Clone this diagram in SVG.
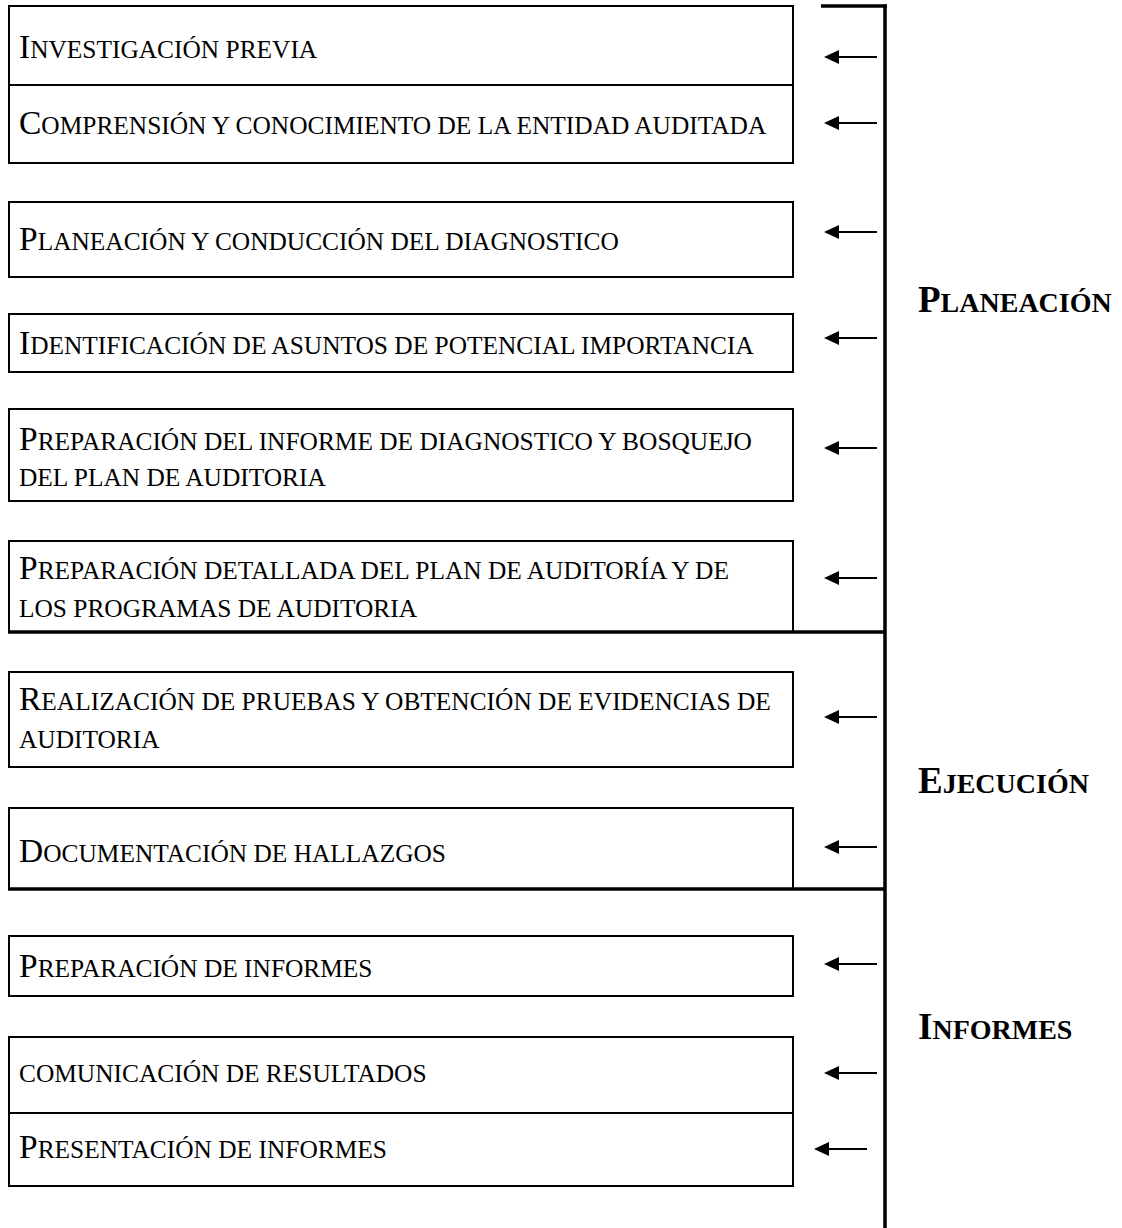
<svg xmlns="http://www.w3.org/2000/svg" width="1122" height="1228" viewBox="0 0 1122 1228">
<style>
.box{fill:none;stroke:#000;stroke-width:2}
.sep{stroke:#000;stroke-width:3.5;fill:none}
.t{font-family:"Liberation Serif","Times New Roman",serif;fill:#000}
.c{font-size:33.5px}
.s{font-size:25.4px}
.pc{font-size:37px;font-weight:bold}
.ps{font-size:28px;font-weight:bold}
.arr{stroke:#000;stroke-width:2;fill:none}
</style>
<defs>
<marker id="ah" markerWidth="15" markerHeight="15" refX="1" refY="7.5" orient="auto" markerUnits="userSpaceOnUse" viewBox="0 0 15 15">
<path d="M0,0.5 L15,7.5 L0,14.5 Z" fill="#000"/>
</marker>
</defs>
<rect width="1122" height="1228" fill="#fff"/>
<g id="frame">
<line class="sep" x1="821" y1="6" x2="887" y2="6"/>
<line class="sep" x1="885" y1="4.5" x2="885" y2="1228"/>
<line class="sep" x1="8" y1="632" x2="885" y2="632"/>
<line class="sep" x1="8" y1="889" x2="885" y2="889"/>
</g>
<g id="n1"><rect class="box" x="9" y="6" width="784" height="79"/>
<text class="t" x="19" y="58"><tspan class="c">I</tspan><tspan class="s">NVESTIGACIÓN PREVIA</tspan></text></g>
<g id="n2"><rect class="box" x="9" y="85" width="784" height="78"/>
<text class="t" x="19" y="134"><tspan class="c">C</tspan><tspan class="s">OMPRENSIÓN Y CONOCIMIENTO DE LA ENTIDAD AUDITADA</tspan></text></g>
<g id="n3"><rect class="box" x="9" y="202" width="784" height="75"/>
<text class="t" x="19" y="250"><tspan class="c">P</tspan><tspan class="s">LANEACIÓN Y CONDUCCIÓN DEL DIAGNOSTICO</tspan></text></g>
<g id="n4"><rect class="box" x="9" y="314" width="784" height="58"/>
<text class="t" x="19" y="354"><tspan class="c">I</tspan><tspan class="s">DENTIFICACIÓN DE ASUNTOS DE POTENCIAL IMPORTANCIA</tspan></text></g>
<g id="n5"><rect class="box" x="9" y="409" width="784" height="92"/>
<text class="t" x="19" y="450"><tspan class="c">P</tspan><tspan class="s">REPARACIÓN DEL INFORME DE DIAGNOSTICO Y BOSQUEJO</tspan></text>
<text class="t s" x="19" y="486">DEL PLAN DE AUDITORIA</text></g>
<g id="n6"><rect class="box" x="9" y="541" width="784" height="91"/>
<text class="t" x="19" y="579"><tspan class="c">P</tspan><tspan class="s">REPARACIÓN DETALLADA DEL PLAN DE AUDITORÍA Y DE</tspan></text>
<text class="t s" x="19" y="617">LOS PROGRAMAS DE AUDITORIA</text></g>
<g id="n7"><rect class="box" x="9" y="672" width="784" height="95"/>
<text class="t" x="19" y="710"><tspan class="c">R</tspan><tspan class="s">EALIZACIÓN DE PRUEBAS Y OBTENCIÓN DE EVIDENCIAS DE</tspan></text>
<text class="t s" x="19" y="748">AUDITORIA</text></g>
<g id="n8"><rect class="box" x="9" y="808" width="784" height="81"/>
<text class="t" x="19" y="862"><tspan class="c">D</tspan><tspan class="s">OCUMENTACIÓN DE HALLAZGOS</tspan></text></g>
<g id="n9"><rect class="box" x="9" y="936" width="784" height="60"/>
<text class="t" x="19" y="977"><tspan class="c">P</tspan><tspan class="s">REPARACIÓN DE INFORMES</tspan></text></g>
<g id="n10"><rect class="box" x="9" y="1037" width="784" height="76"/>
<text class="t s" x="19" y="1082">COMUNICACIÓN DE RESULTADOS</text></g>
<g id="n11"><rect class="box" x="9" y="1113" width="784" height="73"/>
<text class="t" x="19" y="1158"><tspan class="c">P</tspan><tspan class="s">RESENTACIÓN DE INFORMES</tspan></text></g>
<g id="phase-planeacion"><text class="t" x="918" y="312"><tspan class="pc">P</tspan><tspan class="ps">LANEACIÓN</tspan></text></g>
<g id="phase-ejecucion"><text class="t" x="918" y="793"><tspan class="pc">E</tspan><tspan class="ps">JECUCIÓN</tspan></text></g>
<g id="phase-informes"><text class="t" x="918" y="1039"><tspan class="pc">I</tspan><tspan class="ps">NFORMES</tspan></text></g>
<g id="connectors">
<line class="arr" x1="877" y1="57" x2="838" y2="57" marker-end="url(#ah)"/>
<line class="arr" x1="877" y1="123" x2="838" y2="123" marker-end="url(#ah)"/>
<line class="arr" x1="877" y1="232" x2="838" y2="232" marker-end="url(#ah)"/>
<line class="arr" x1="877" y1="338" x2="838" y2="338" marker-end="url(#ah)"/>
<line class="arr" x1="877" y1="448" x2="838" y2="448" marker-end="url(#ah)"/>
<line class="arr" x1="877" y1="578" x2="838" y2="578" marker-end="url(#ah)"/>
<line class="arr" x1="877" y1="717" x2="838" y2="717" marker-end="url(#ah)"/>
<line class="arr" x1="877" y1="847" x2="838" y2="847" marker-end="url(#ah)"/>
<line class="arr" x1="877" y1="964" x2="838" y2="964" marker-end="url(#ah)"/>
<line class="arr" x1="877" y1="1073" x2="838" y2="1073" marker-end="url(#ah)"/>
<line class="arr" x1="867" y1="1149" x2="828" y2="1149" marker-end="url(#ah)"/>
</g>
</svg>
